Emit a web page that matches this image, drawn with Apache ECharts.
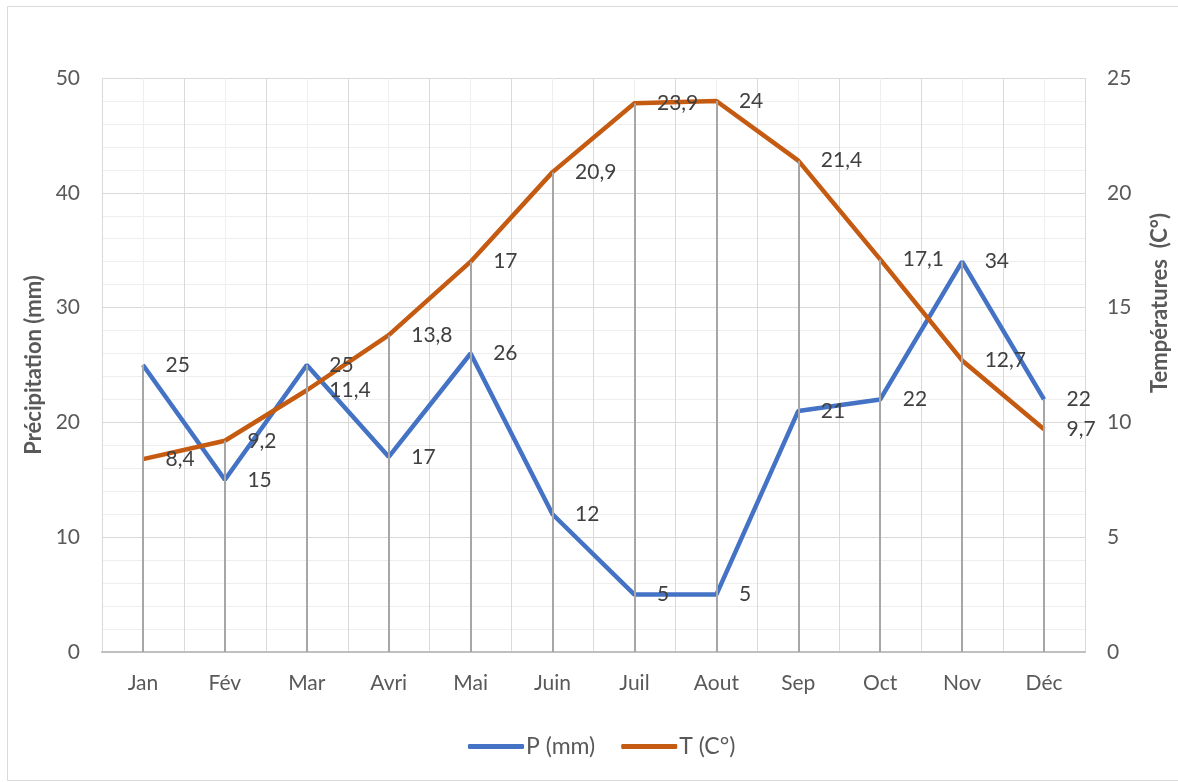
<!DOCTYPE html>
<html><head><meta charset="utf-8">
<script src="https://cdn.jsdelivr.net/npm/echarts@6/dist/echarts.min.js"></script>
<style>html,body{margin:0;padding:0;background:#fff}#c{width:1178px;height:782px}</style>
</head><body><div id="c"></div>
<script>
const months = ['Jan','Fév','Mar','Avri','Mai','Juin','Juil','Aout','Sep','Oct','Nov','Déc'];
const precip = [25,15,25,17,26,12,5,5,21,22,34,22];
const temp = [8.4,9.2,11.4,13.8,17,20.9,23.9,24,21.4,17.1,12.7,9.7];
const leftTicks = {min:0,max:50,interval:10};
const rightTicks = {min:0,max:25,interval:5};

const FONT = 'Lato, "Open Sans", sans-serif';
const FS = 21;
const fmt = p => String(p.value).replace('.', ',');
const drop = (vals) => vals.map((v,i)=>[{coord:[i,v]},{coord:[i,0]}]);

const chart = echarts.init(document.getElementById('c'));
chart.setOption({
  animation:false,
  textStyle:{fontFamily:FONT},
  grid:{left:102,right:93,top:78,bottom:130},
  graphic:[
    {type:'rect',shape:{x:7.5,y:6.5,width:1300,height:774},style:{fill:'none',stroke:'#d9d9d9',lineWidth:1},z:-10,silent:true},
    {type:'text',x:1160,y:303,rotation:Math.PI/2,style:{text:'Températures  (C°)',font:'bold 22px '+FONT,fill:'#595959',align:'center',verticalAlign:'middle'}}
  ],
  legend:{
    data:['P (mm)','T (C°)'],bottom:19,left:463,itemWidth:56,itemHeight:5,itemGap:26,
    icon:'roundRect',
    textStyle:{fontSize:23,color:'#595959',fontFamily:FONT,padding:[0,0,0,-3]}
  },
  xAxis:[
    {type:'category',data:months,boundaryGap:true,
     axisLine:{show:true,lineStyle:{color:'#bfbfbf',width:2}},axisTick:{show:false},
     axisLabel:{fontSize:FS,color:'#595959',margin:21,fontFamily:FONT},splitLine:{show:false}},
    {type:'value',min:0,max:24,interval:1,position:'top',
     axisLine:{show:false},axisTick:{show:false},axisLabel:{show:false},
     splitLine:{show:true,lineStyle:{color:['#d9d9d9','#eeeeee'],width:1}}}
  ],
  yAxis:[
    {type:'value',min:leftTicks.min,max:leftTicks.max,interval:leftTicks.interval,
     name:'Précipitation (mm)',nameLocation:'middle',nameGap:56,nameRotate:90,
     nameTextStyle:{fontSize:22,fontWeight:'bold',color:'#595959',fontFamily:FONT},
     axisLine:{show:false},axisTick:{show:false},
     axisLabel:{fontSize:FS,color:'#595959',margin:22,fontFamily:FONT},
     splitLine:{show:true,lineStyle:{color:'#d9d9d9',width:1}},
     minorTick:{show:false,splitNumber:5},
     minorSplitLine:{show:true,lineStyle:{color:'#eeeeee',width:1}}},
    {type:'value',min:rightTicks.min,max:rightTicks.max,interval:rightTicks.interval,
     axisLine:{show:false},axisTick:{show:false},
     axisLabel:{fontSize:FS,color:'#595959',margin:22,fontFamily:FONT},
     splitLine:{show:false}}
  ],
  series:[
    {type:'line',name:'dropP',data:[],z:1,silent:true,
     markLine:{silent:true,symbol:'none',label:{show:false},lineStyle:{color:'#a6a6a6',width:2,type:'solid'},data:drop(precip)}},
    {type:'line',name:'dropT',yAxisIndex:1,data:[],z:1,silent:true,
     markLine:{silent:true,symbol:'none',label:{show:false},lineStyle:{color:'#a6a6a6',width:2,type:'solid'},data:drop(temp)}},
    {type:'line',name:'P (mm)',data:precip,z:3,symbol:'circle',symbolSize:1,showSymbol:true,
     color:'#4472C4',lineStyle:{width:4.5,color:'#4472C4'},itemStyle:{color:'#4472C4'},
     label:{show:true,position:'right',distance:22,formatter:fmt,fontSize:FS,color:'#404040',fontFamily:FONT}},
    {type:'line',name:'T (C°)',yAxisIndex:1,data:temp,z:3,symbol:'circle',symbolSize:1,showSymbol:true,
     color:'#C55A11',lineStyle:{width:4.5,color:'#C55A11'},itemStyle:{color:'#C55A11'},
     label:{show:true,position:'right',distance:22,formatter:fmt,fontSize:FS,color:'#404040',fontFamily:FONT}}
  ]
});
</script></body></html>
